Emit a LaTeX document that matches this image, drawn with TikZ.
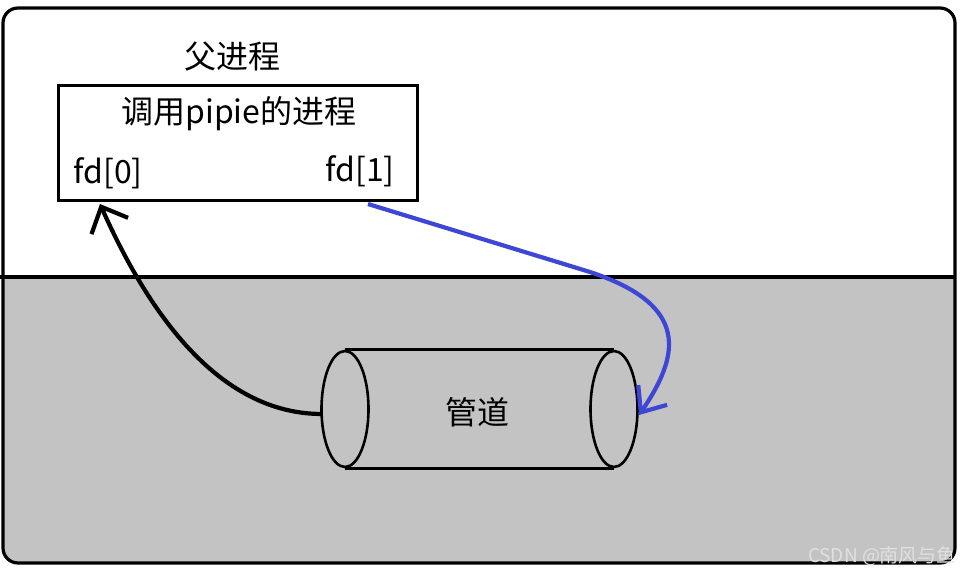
\documentclass[tikz,border=0pt]{standalone}
\usepackage{fontspec}
\setmainfont{Noto Sans CJK SC}
\usetikzlibrary{shapes.geometric,arrows.meta}
\definecolor{pipegray}{RGB}{195,195,195}
\definecolor{wblue}{RGB}{62,70,214}
\definecolor{wmark}{RGB}{224,224,224}
\tikzset{
  frameline/.style={line width=3.2pt},
  boxline/.style={line width=3pt},
  pipeend/.style={ellipse, draw, line width=2.6pt, minimum width=47pt, minimum height=116pt, inner sep=0pt},
  pipeline/.style={line width=2.6pt},
  lbl/.style={font=\fontsize{32}{38}\selectfont, inner sep=0pt},
  readarrow/.style={line width=4.2pt, -{Straight Barb[length=21pt,width=40pt]}},
  writearrow/.style={line width=4.2pt, wblue, -{Straight Barb[length=21pt,width=35pt]}},
}
\begin{document}
\begin{tikzpicture}[x=1pt,y=-1pt]
\useasboundingbox (0,0) rectangle (961,575);
% lower gray half
\begin{scope}
\clip[rounded corners=15pt] (3,8) rectangle (955,563);
\fill[pipegray] (0,277) rectangle (961,575);
\end{scope}
\draw[frameline] (0,277) -- (955,277);
\draw[frameline, rounded corners=15pt] (3,8) rectangle (955,563);
% process box
\node[lbl] (parent) at (232,57) {父进程};
\node[draw, boxline, minimum width=359pt, minimum height=114pt, inner sep=0pt] (proc) at (237.5,143) {};
\node[lbl] (ptitle) at (239,114) {调用pipie的进程};
\node[lbl] (fd0) at (108,173) {fd[0]};
\node[lbl] (fd1) at (360,171) {fd[1]};
% pipe
\node[pipeend] (lend) at (345,409) {};
\node[pipeend] (rend) at (614,409) {};
\draw[pipeline] (lend.north) -- (rend.north);
\draw[pipeline] (lend.south) -- (rend.south);
\node[lbl] (pipe) at (477,412) {管道};
% connectors
\coordinate (pipeL) at (322,414);
\coordinate (fd0tip) at (100,204);
\coordinate (fd1start) at (368,204);
\coordinate (bend) at (590,272);
\coordinate (pipeR) at (639,415);
\draw[readarrow] (pipeL) .. controls (240,414) and (165,350) .. (fd0tip);
\draw[writearrow] (fd1start) -- (bend) .. controls (690,305) and (680,355) .. (pipeR);
% watermark
\node[font=\fontsize{19}{22}\selectfont, text=wmark, inner sep=0pt] (wm) at (882,556) {CSDN @南风与鱼};
\end{tikzpicture}
\end{document}
